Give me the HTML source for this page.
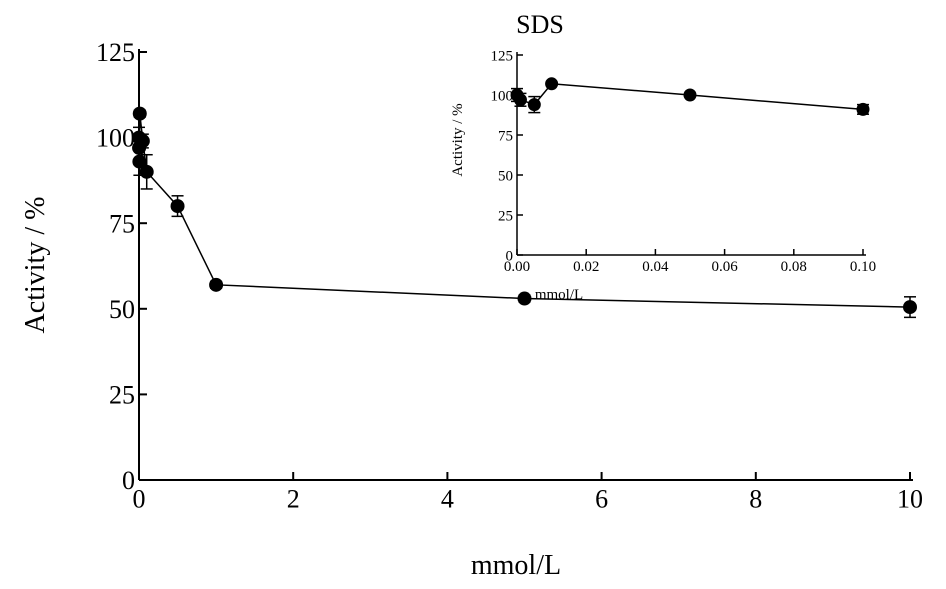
<!DOCTYPE html>
<html><head><meta charset="utf-8"><style>body{margin:0;background:#fff}svg text{font-family:"Liberation Serif",serif;fill:#000}</style></head>
<body>
<svg width="946" height="584" viewBox="0 0 946 584" xmlns="http://www.w3.org/2000/svg">
<g id="main"></g>
<g id="inset"></g>
</svg>
<script>
const mainX=[0,0.001,0.005,0.01,0.05,0.1,0.5,1,5,10];
const mainY=[100,97,93,107,99,90,80,57,53,50.5];
const mainErr=[3,4,4,1,2,5,3,1,1,3];
const mainXTicks=[0,2,4,6,8,10];
const mainYTicks=[0,25,50,75,100,125];
const insetX=[0,0.001,0.005,0.01,0.05,0.1];
const insetY=[100,97,94,107,100,91];
const insetErr=[4,4,5,1,1,3];
const insetXTicks=["0.00","0.02","0.04","0.06","0.08","0.10"];
const insetYTicks=[0,25,50,75,100,125];
const NS="http://www.w3.org/2000/svg";
function mk(p,t,a,txt){const e=document.createElementNS(NS,t);for(const k in a)e.setAttribute(k,a[k]);if(txt!==undefined)e.textContent=txt;p.appendChild(e);return e;}
function plot(g,cfg){
 const sx=v=>cfg.x0+(v-cfg.xmin)/(cfg.xmax-cfg.xmin)*(cfg.x1-cfg.x0);
 const sy=v=>cfg.y0-(v/125)*(cfg.y0-cfg.y1);
 let e=mk(g,'line',{x1:cfg.x0,y1:cfg.y0,x2:cfg.x0,y2:cfg.y1-3,stroke:'#000','stroke-width':cfg.lw});
 
 e=mk(g,'line',{x1:cfg.x0,y1:cfg.y0,x2:cfg.x1+3,y2:cfg.y0,stroke:'#000','stroke-width':cfg.lw});
 
 cfg.yt.forEach(v=>{mk(g,'line',{x1:cfg.x0,y1:sy(v),x2:cfg.x0+cfg.tk,y2:sy(v),stroke:'#000','stroke-width':cfg.lw});
  e=mk(g,'text',{x:cfg.x0-4,y:sy(v)+cfg.fs*0.35,'font-size':cfg.fs,'text-anchor':'end'},v);
  });
 cfg.xt.forEach(s=>{const v=parseFloat(s);mk(g,'line',{x1:sx(v),y1:cfg.y0,x2:sx(v),y2:cfg.y0-cfg.tk,stroke:'#000','stroke-width':cfg.lw});
  e=mk(g,'text',{x:sx(v),y:cfg.y0+cfg.fs*1.05,'font-size':cfg.fs,'text-anchor':'middle'},s);
  });
 const order=cfg.X.map((x,i)=>i);
 let d=order.map((i,k)=>(k?'L':'M')+sx(cfg.X[i])+','+sy(cfg.Y[i])).join(' ');
 e=mk(g,'path',{d:d,fill:'none',stroke:'#000','stroke-width':1.5});
 
 cfg.X.forEach((x,i)=>{const cx=sx(x),cy=sy(cfg.Y[i]),er=cfg.E[i]*(cfg.y0-cfg.y1)/125;
  mk(g,'line',{x1:cx,y1:cy-er,x2:cx,y2:cy+er,stroke:'#000','stroke-width':1.5});
  mk(g,'line',{x1:cx-6,y1:cy-er,x2:cx+6,y2:cy-er,stroke:'#000','stroke-width':1.5});
  mk(g,'line',{x1:cx-6,y1:cy+er,x2:cx+6,y2:cy+er,stroke:'#000','stroke-width':1.5});
  e=mk(g,'circle',{cx:cx,cy:cy,r:cfg.r,fill:'#000'});
  });
}
plot(document.getElementById('main'),{x0:139,x1:910,xmin:0,xmax:10,y0:480,y1:52,lw:2,tk:8,fs:26,r:7,
 X:mainX,Y:mainY,E:mainErr,xt:mainXTicks.map(String),yt:mainYTicks});
plot(document.getElementById('inset'),{x0:517,x1:863,xmin:0,xmax:0.1,y0:255,y1:55,lw:1.5,tk:6,fs:15,r:6.5,
 X:insetX,Y:insetY,E:insetErr,xt:insetXTicks,yt:insetYTicks});
</script>
<svg style="position:absolute;left:0;top:0" width="946" height="584" xmlns="http://www.w3.org/2000/svg">
<text x="44" y="265" font-size="28" text-anchor="middle" transform="rotate(-90 44 265)" style="font-family:'Liberation Serif',serif">Activity / %</text>
<text x="516" y="574" font-size="28" text-anchor="middle" style="font-family:'Liberation Serif',serif">mmol/L</text>
<text x="540" y="33" font-size="26" text-anchor="middle" style="font-family:'Liberation Serif',serif">SDS</text>
<text x="462" y="140" font-size="15" text-anchor="middle" transform="rotate(-90 462 140)" style="font-family:'Liberation Serif',serif">Activity / %</text>
<text x="559" y="299" font-size="15" text-anchor="middle" style="font-family:'Liberation Serif',serif">mmol/L</text>
</svg>
</body></html>
